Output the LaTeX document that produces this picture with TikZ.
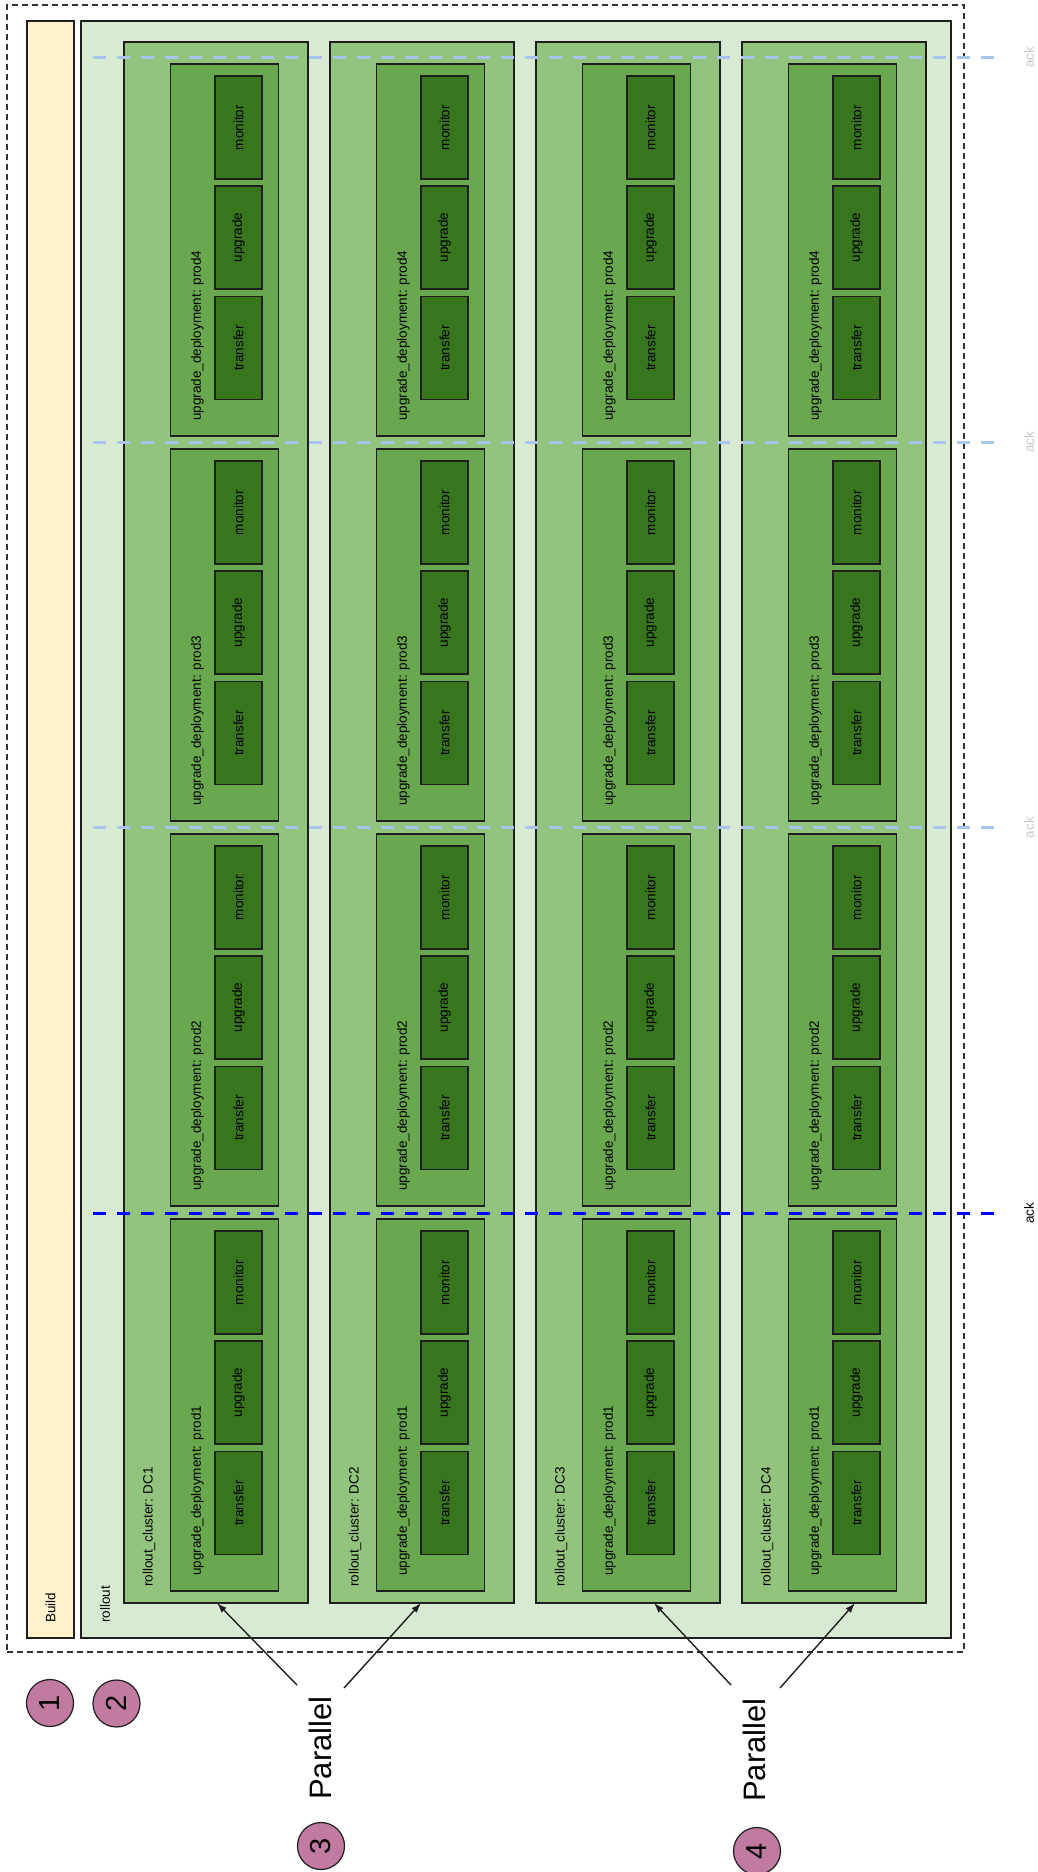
\documentclass[tikz,border=0pt]{standalone}
\usepackage{fontspec}
\setmainfont{Liberation Sans}
\usetikzlibrary{arrows.meta}
\definecolor{buildfill}{HTML}{FFF2CC}
\definecolor{rollfill}{HTML}{D9EAD3}
\definecolor{clusterfill}{HTML}{93C47D}
\definecolor{depfill}{HTML}{6AA84F}
\definecolor{taskfill}{HTML}{38761D}
\definecolor{circfill}{HTML}{C27BA0}
\definecolor{acklight}{HTML}{A9C5EE}
\definecolor{ackdark}{HTML}{0000FF}
\definecolor{edgecol}{HTML}{1F1F1F}
\definecolor{ackgray}{HTML}{C8C8C8}
\begin{document}
\begin{tikzpicture}[x=1pt,y=-1pt,
  boxbase/.style={draw=edgecol,line width=1.2pt,inner sep=0pt,outer sep=0pt,anchor=north west},
  outerbox/.style={draw=black!80,line width=1.2pt,dash pattern=on 6pt off 4pt,inner sep=0pt,outer sep=0pt,anchor=north west},
  buildbox/.style={boxbase,fill=buildfill},
  rollbox/.style={boxbase,fill=rollfill},
  clusterbox/.style={boxbase,fill=clusterfill},
  depbox/.style={boxbase,fill=depfill,minimum width=108pt,minimum height=372pt},
  taskbox/.style={draw=edgecol,line width=1.2pt,fill=taskfill,inner sep=0pt,outer sep=0pt,
     rotate=90,minimum width=103pt,minimum height=47pt,font=\fontsize{13.5}{16}\selectfont},
  lbl/.style={inner sep=0pt,rotate=90,anchor=west,font=\fontsize{13.5}{16}\selectfont},
  acklbl/.style={inner sep=0pt,rotate=90,font=\fontsize{13.5}{16}\selectfont},
  ackline/.style={line width=3pt,dash pattern=on 13pt off 11pt},
  numcirc/.style={circle,draw=edgecol,line width=1.2pt,fill=circfill,minimum size=47pt,inner sep=0pt,
     rotate=90,font=\fontsize{29}{32}\selectfont},
  partext/.style={inner sep=0pt,rotate=90,font=\fontsize{31}{36}\selectfont},
  pararrow/.style={draw=edgecol,line width=1.4pt,-{Latex[length=10pt,width=7pt]}}
]
\useasboundingbox (0,0) rectangle (1038,1872);
\fill[white] (0,0) rectangle (1038,1872);

% outer dashed frame
\node[outerbox,minimum width=957pt,minimum height=1647pt] (outer) at (7,5) {};

% build & rollout
\node[buildbox,minimum width=47pt,minimum height=1617pt] (build) at (27,21) {};
\node[lbl] (buildlbl) at (50.5,1623) {Build};
\node[rollbox,minimum width=870pt,minimum height=1617pt] (rollout) at (81,21) {};
\node[lbl] (rolllbl) at (105,1623) {rollout};

% clusters
\foreach \i/\dc in {0/1,1/2,2/3,3/4}{
  \pgfmathsetmacro{\cx}{124+206*\i}
  \node[clusterbox,minimum width=184pt,minimum height=1561pt] (dc\dc) at (\cx,42) {};
  \node[lbl] (dclbl\dc) at (\cx+25,1587) {rollout\_cluster: DC\dc};
  \foreach \j/\p in {0/4,1/3,2/2,3/1}{
    \pgfmathsetmacro{\dy}{64+385*\j}
    \node[depbox] (dep\dc p\p) at (\cx+46.5,\dy) {};
    \node[lbl] (deplbl\dc p\p) at (\cx+73.5,\dy+357) {upgrade\_deployment: prod\p};
    \node[taskbox] (mon\dc p\p) at (\cx+114.5,\dy+63.5) {monitor};
    \node[taskbox] (upg\dc p\p) at (\cx+114.5,\dy+173.5) {upgrade};
    \node[taskbox] (tra\dc p\p) at (\cx+114.5,\dy+284) {transfer};
  }
}

% ack lines
\foreach \k/\yy in {1/57,2/442.3,3/827.6}{
  \coordinate (acks\k) at (93,\yy);
  \coordinate (acke\k) at (997,\yy);
  \draw[ackline,draw=acklight] (acks\k) -- (acke\k);
  \node[acklbl,text=ackgray] (acklbl\k) at (1029,\yy) {ack};
}
\coordinate (acks4) at (93,1213);
\coordinate (acke4) at (997,1213);
\draw[ackline,draw=ackdark] (acks4) -- (acke4);
\node[acklbl,text=black] (acklbl4) at (1029,1213) {ack};

% number circles
\node[numcirc] (n1) at (50,1703) {1};
\node[numcirc] (n2) at (116.5,1703.5) {2};
\node[numcirc] (n3) at (321,1846) {3};
\node[numcirc] (n4) at (757,1851) {4};

% parallel labels
\node[partext] (par1) at (320.5,1748) {Parallel};
\node[partext] (par2) at (754,1750) {Parallel};

% arrows
\coordinate (s1) at (297,1685);
\coordinate (s2) at (344,1688);
\coordinate (s3) at (731,1685);
\coordinate (s4) at (780,1688);
\coordinate (t1) at (217,1603);
\coordinate (t2) at (421,1603);
\coordinate (t3) at (654,1603);
\coordinate (t4) at (855,1603);
\draw[pararrow] (s1) -- (t1);
\draw[pararrow] (s2) -- (t2);
\draw[pararrow] (s3) -- (t3);
\draw[pararrow] (s4) -- (t4);
\end{tikzpicture}
\end{document}
